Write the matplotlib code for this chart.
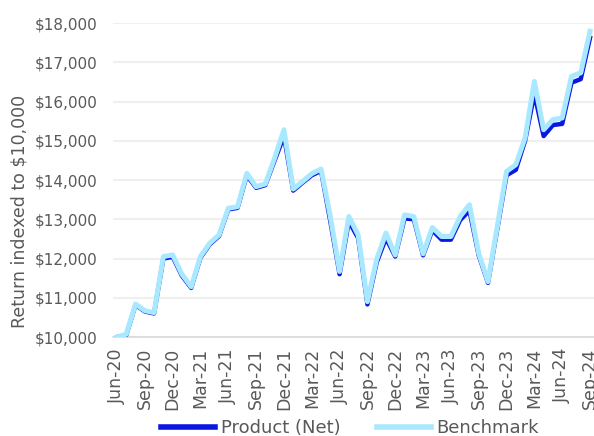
import matplotlib
matplotlib.use("Agg")
import matplotlib.pyplot as plt
from matplotlib.ticker import FuncFormatter

months = ["Jun-20","Jul-20","Aug-20","Sep-20","Oct-20","Nov-20","Dec-20",
          "Jan-21","Feb-21","Mar-21","Apr-21","May-21","Jun-21","Jul-21","Aug-21","Sep-21","Oct-21","Nov-21","Dec-21",
          "Jan-22","Feb-22","Mar-22","Apr-22","May-22","Jun-22","Jul-22","Aug-22","Sep-22","Oct-22","Nov-22","Dec-22",
          "Jan-23","Feb-23","Mar-23","Apr-23","May-23","Jun-23","Jul-23","Aug-23","Sep-23","Oct-23","Nov-23","Dec-23",
          "Jan-24","Feb-24","Mar-24","Apr-24","May-24","Jun-24","Jul-24","Aug-24","Sep-24"]

benchmark = [10000, 10070, 10840, 10670, 10620, 12050, 12090, 11600, 11280, 12050, 12390, 12600,
             13280, 13320, 14170, 13830, 13900, 14560, 15280, 13770, 13960, 14160, 14280, 13070,
             11670, 13070, 12600, 10900, 11980, 12650, 12090, 13110, 13070, 12120, 12790, 12560,
             12560, 13070, 13370, 12130, 11410, 12810, 14220, 14390, 15070, 16510, 15280, 15540,
             15580, 16640, 16730, 17790]

product = [10000, 10050, 10820, 10650, 10600, 12000, 12040, 11560, 11250, 12020, 12360, 12570,
           13250, 13290, 14120, 13800, 13870, 14500, 15120, 13730, 13930, 14120, 14230, 12950,
           11600, 12950, 12520, 10830, 11900, 12520, 12050, 13020, 13000, 12080, 12720, 12480,
           12480, 12980, 13220, 12080, 11380, 12750, 14120, 14260, 15000, 16200, 15120, 15400,
           15430, 16480, 16570, 17620]

tick_labels = ["Jun-20","Sep-20","Dec-20","Mar-21","Jun-21","Sep-21","Dec-21","Mar-22","Jun-22",
               "Sep-22","Dec-22","Mar-23","Jun-23","Sep-23","Dec-23","Mar-24","Jun-24","Sep-24"]

y_ticks = [10000, 11000, 12000, 13000, 14000, 15000, 16000, 17000, 18000]

TEXT = "#595959"
plt.rcParams['font.family'] = ['DejaVu Sans']

fig = plt.figure(figsize=(5.94, 4.36), dpi=100)
ax = fig.add_axes([113/594, 1-337/436, 1-113/594, (337-23)/436])

x = list(range(len(months)))
l1, = ax.plot(x, product, color="#0A17E0", lw=3.2, solid_joinstyle="round", zorder=3, label="Product (Net)")
l2, = ax.plot(x, benchmark, color="#A8E9FF", lw=3.6, solid_joinstyle="round", zorder=3.5, label="Benchmark")

ax.set_xlim(-0.43, 51.43)
ax.set_ylim(10000, 18000)
ax.set_yticks(y_ticks)
ax.yaxis.set_major_formatter(FuncFormatter(lambda v, p: f"${v:,.0f}"))
tick_pos = [months.index(t) for t in tick_labels]
ax.set_xticks(tick_pos)
ax.set_xticklabels(tick_labels, rotation=90)

ax.grid(axis="y", color="#EFEFEF", lw=1.5)
ax.set_axisbelow(True)
for s in ["top", "right", "left"]:
    ax.spines[s].set_visible(False)
ax.spines["bottom"].set_color("#D9D9D9")
ax.spines["bottom"].set_linewidth(1.2)
ax.tick_params(axis="both", length=0, colors=TEXT)
ax.tick_params(axis="y", pad=11, labelsize=11)
ax.tick_params(axis="x", pad=8, labelsize=12.5)

fig.text(20/594, 1-211/436, "Return indexed to $10,000", rotation=90, ha="center", va="center",
         color=TEXT, fontsize=12.5)

leg = fig.legend(handles=[l1, l2], labels=["Product (Net)", "Benchmark"], loc="center",
                 bbox_to_anchor=(350/594, 1-428/436), ncol=2, frameon=False, fontsize=13,
                 handlelength=3.0, columnspacing=2.0, handletextpad=0.3)
for t in leg.get_texts():
    t.set_color(TEXT)
for h in leg.legend_handles:
    h.set_linewidth(4)

fig.savefig("out.png", dpi=100)
